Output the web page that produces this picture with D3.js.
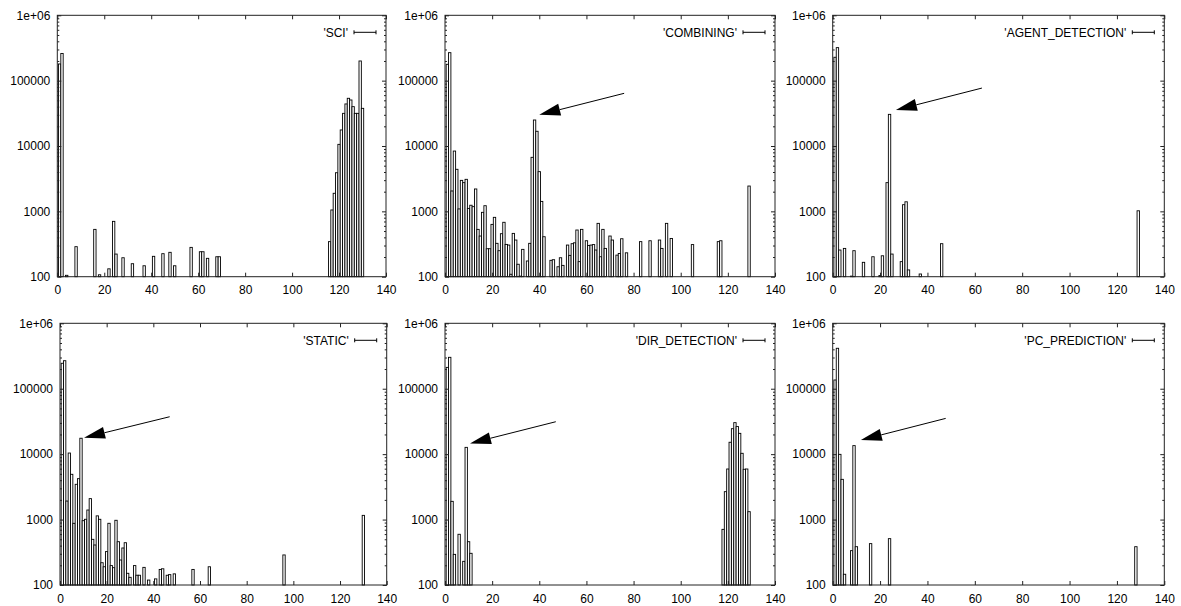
<!DOCTYPE html>
<html><head><meta charset="utf-8">
<script src="https://cdn.jsdelivr.net/npm/d3@7"></script>
<style>
body{margin:0;background:#fff}
svg{display:block}
text{font-family:"Liberation Sans",Arial,Helvetica,sans-serif;font-size:12px;fill:#000}
</style>
</head><body>
<svg id="c" width="1181" height="606"></svg>
<script>
// ---------------- data ----------------
const panelNames = ["'SCI'", "'COMBINING'", "'AGENT_DETECTION'", "'STATIC'", "'DIR_DETECTION'", "'PC_PREDICTION'"];

const sciX = [1,2,4,8,16,18,22,24,25,28,32,37,41,45,48,50,57,61,62,64,68,69,
  116,117,118,119,120,121,122,123,124,125,126,127,128,129,130];
const sciV = [180000,260000,105,288,530,107,132,703,222,195,158,147,205,225,236,147,281,241,241,191,202,202,
  344,1050,1890,3900,10600,17600,31600,44000,53700,50600,40000,31600,31600,200000,37700];

const combX = [1,2,3,4,5,6,7,8,9,10,11,12,13,14,15,16,17,18,19,20,21,22,23,24,25,26,27,28,29,30,31,32,33,35,36,
  37,38,39,40,41,42,45,46,48,49,50,52,53,54,55,56,57,58,60,61,62,63,64,65,66,67,68,70,71,73,74,75,77,
  83,87,91,92,94,96,105,116,117,129];
const combV = [178000,268000,2050,8370,4400,1090,2980,2750,3090,1110,1240,1180,2200,530,419,966,1220,268,268,632,810,324,250,455,680,312,305,109,460,364,155,102,262,174,324,
  6710,25000,16800,4050,1420,409,178,182,142,195,149,305,212,320,330,518,170,530,355,300,305,310,256,655,202,530,271,419,364,214,227,381,232,
  344,355,364,271,655,385,310,344,355,2440];

const agentX = [1,2,3,5,8,9,13,17,20,21,23,24,25,29,30,31,32,37,46,129];
const agentV = [228000,320000,256,271,102,250,166,202,104,209,2750,30500,222,170,1265,1400,127,110,320,1020];

const staticX = [1,2,3,4,5,6,7,8,9,10,11,12,13,14,15,16,17,18,19,20,21,22,23,24,25,26,27,28,29,30,
  32,33,34,36,38,41,43,44,46,47,49,57,64,96,130];
const staticV = [245000,268000,1920,10400,4920,877,3460,4220,17500,962,1010,1400,2090,499,409,1140,1010,219,190,324,877,198,184,975,459,241,368,443,151,131,
  198,141,141,186,119,124,173,177,141,144,148,173,190,288,1160];

const dirX = [1,2,3,4,6,8,9,10,11,118,119,120,121,122,123,124,125,126,127,128,129];
const dirV = [212000,302000,1900,294,596,230,12700,459,305,709,2670,5930,15200,24500,30300,26400,20800,10300,5870,5930,1320];

const pcX = [1,2,3,4,5,8,9,10,16,24,128];
const pcV = [136000,415000,9930,4120,146,335,13500,385,429,511,385];

// arrows: [tailX, tailValue, tipX, tipValue] (null = no arrow)
const arrowSpecs = [null, [76,64000,40,30000], [63,77000,26.7,35500], [47,37300,10.3,17800], [47,31300,10.6,14600], [47.7,35200,11.9,16400]];

const xTickValues = [0,20,40,60,80,100,120,140];
const yTickValues = [100,1000,10000,100000,1000000];
const yTickLabels = ["100","1000","10000","100000","1e+06"];

const seriesX = [sciX, combX, agentX, staticX, dirX, pcX];
const seriesV = [sciV, combV, agentV, staticV, dirV, pcV];

// ---------------- layout ----------------
const boxes = [
  [57.3, 386, 15.3, 276.7],
  [445, 775, 15.3, 276.7],
  [832.7, 1164.3, 15.3, 276.7],
  [60, 386.7, 323.3, 585],
  [445, 775, 323.3, 585],
  [832.7, 1164.3, 323.3, 585]
];

const svg = d3.select("#c");
const minor = [];
for (let d = 100; d < 1e6; d *= 10) for (let k = 2; k <= 9; k++) minor.push(d * k);

boxes.forEach((b, i) => {
  const [L, R, T, B] = b;
  const x = d3.scaleLinear().domain([0, 140]).range([L, R]);
  const y = d3.scaleLog().domain([100, 1e6]).range([B, T]);
  const g = svg.append("g");

  // bars
  const data = seriesX[i].map((v, j) => ({x: v, v: seriesV[i][j]}));
  g.append("g").selectAll("rect").data(data).join("rect")
    .attr("x", d => x(d.x - 0.5))
    .attr("width", d => x(d.x + 0.5) - x(d.x - 0.5))
    .attr("y", d => y(d.v))
    .attr("height", d => y(100) - y(d.v))
    .attr("fill", "#fff").attr("stroke", "#000").attr("stroke-width", 0.9);

  // axes
  const fmt = v => yTickLabels[yTickValues.indexOf(v)];
  const ax = [
    g.append("g").attr("transform", `translate(${L},0)`).call(d3.axisLeft(y).tickValues(yTickValues).tickFormat(fmt).tickSize(-4).tickPadding(7)),
    g.append("g").attr("transform", `translate(${L},0)`).call(d3.axisLeft(y).tickValues(minor).tickFormat("").tickSize(-2)),
    g.append("g").attr("transform", `translate(${R},0)`).call(d3.axisRight(y).tickValues(yTickValues).tickFormat("").tickSize(-4)),
    g.append("g").attr("transform", `translate(${R},0)`).call(d3.axisRight(y).tickValues(minor).tickFormat("").tickSize(-2)),
    g.append("g").attr("transform", `translate(0,${B})`).call(d3.axisBottom(x).tickValues(xTickValues).tickFormat(d3.format("d")).tickSize(-4).tickPadding(9)),
    g.append("g").attr("transform", `translate(0,${T})`).call(d3.axisTop(x).tickValues(xTickValues).tickFormat("").tickSize(-4))
  ];
  ax.forEach(a => {
    a.select(".domain").remove();
    a.selectAll("line").attr("stroke", "#222");
    a.selectAll("text").attr("font-size", 12).attr("font-family", "Liberation Sans, Arial, sans-serif").attr("fill", "#000");
  });

  g.append("rect").attr("x", L).attr("y", T).attr("width", R - L).attr("height", B - T)
    .attr("fill", "none").attr("stroke", "#222").attr("stroke-width", 1);

  // legend
  const ly = T + 17;
  g.append("text").attr("x", R - 38).attr("y", ly).attr("dy", "0.35em").attr("text-anchor", "end").text(panelNames[i]);
  g.append("line").attr("x1", R - 32).attr("x2", R - 10).attr("y1", ly).attr("y2", ly).attr("stroke", "#000");
  [R - 32, R - 10].forEach(px => g.append("line").attr("x1", px).attr("x2", px).attr("y1", ly - 2).attr("y2", ly + 2).attr("stroke", "#000"));

  // arrow
  const a = arrowSpecs[i];
  if (a) {
    const x1 = x(a[0]), y1 = y(a[1]), x2 = x(a[2]), y2 = y(a[3]);
    const dx = x2 - x1, dy = y2 - y1, len = Math.hypot(dx, dy);
    const ux = dx / len, uy = dy / len, hl = 21, hw = 6;
    const bx = x2 - ux * hl, by = y2 - uy * hl;
    g.append("line").attr("x1", x1).attr("y1", y1).attr("x2", bx).attr("y2", by).attr("stroke", "#000").attr("stroke-width", 1);
    g.append("path").attr("d", `M${x2},${y2}L${bx - uy * hw},${by + ux * hw}L${bx + uy * hw},${by - ux * hw}Z`).attr("fill", "#000");
  }
});
</script>
</body></html>
